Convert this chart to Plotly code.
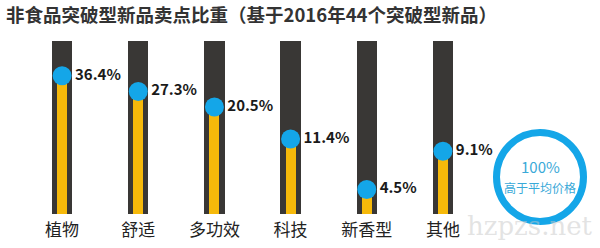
import math
import plotly.graph_objects as go

# ---- data ----
categories = ["植物", "舒适", "多功效", "科技", "新香型", "其他"]
values = [36.4, 27.3, 20.5, 11.4, 4.5, 9.1]
labels = ["36.4%", "27.3%", "20.5%", "11.4%", "4.5%", "9.1%"]
title_text = "非食品突破型新品卖点比重（基于2016年44个突破型新品）"
ring_value = "100%"
ring_caption = "高于平均价格"

# ---- style ----
W, H = 600, 248
L, R, T, B = 24, 119, 41, 34
LOG_LO, LOG_HI = 0.458, 1.839
DARK = "#393735"
YELLOW = "#f6b90a"
BLUE = "#14a6e8"
FONT = "Noto Sans CJK SC"

plot_w = W - L - R
plot_h = H - T - B


def px_to_paper_x(px):
    return (px - L) / plot_w


def px_to_paper_y(py):
    return (H - B - py) / plot_h


fig = go.Figure()

# background tracks (full height of the axis)
fig.add_trace(go.Bar(
    x=categories, y=[10 ** LOG_HI] * len(categories),
    width=0.265, marker=dict(color=DARK, line=dict(width=0)),
    hoverinfo="skip", showlegend=False,
))
# value bars
fig.add_trace(go.Bar(
    x=categories, y=values,
    width=0.13, marker=dict(color=YELLOW, line=dict(width=0)),
    hoverinfo="skip", showlegend=False,
))
# knobs + labels
fig.add_trace(go.Scatter(
    x=categories, y=values, mode="markers+text",
    marker=dict(color=BLUE, size=19, line=dict(width=0)),
    text=["<b>%s</b>" % t for t in labels],
    textposition="middle right",
    textfont=dict(family=FONT, size=15, color="#1a1a1a"),
    hoverinfo="skip", showlegend=False, cliponaxis=False,
))

# ring
cx0, cx1 = 496.5, 583.5
cy0, cy1 = 132.5, 221.5
fig.add_shape(type="circle", xref="paper", yref="paper",
              x0=px_to_paper_x(cx0), x1=px_to_paper_x(cx1),
              y0=px_to_paper_y(cy1), y1=px_to_paper_y(cy0),
              line=dict(color=BLUE, width=7), fillcolor="rgba(0,0,0,0)")
fig.add_annotation(xref="paper", yref="paper", xanchor="center", yanchor="middle",
                   x=px_to_paper_x(540), y=px_to_paper_y(166),
                   text=ring_value, showarrow=False,
                   font=dict(family=FONT, size=15, color="#3aa9d8"))
fig.add_annotation(xref="paper", yref="paper", xanchor="center", yanchor="middle",
                   x=px_to_paper_x(540), y=px_to_paper_y(187),
                   text=ring_caption, showarrow=False,
                   font=dict(family=FONT, size=12, color="#3aa9d8"))

# watermark
fig.add_annotation(xref="paper", yref="paper", xanchor="center", yanchor="middle",
                   x=px_to_paper_x(530), y=px_to_paper_y(226),
                   text="hzpzs.net", showarrow=False,
                   font=dict(family="DejaVu Serif", size=26, color="rgba(200,200,200,0.5)"))

fig.update_layout(
    width=W, height=H,
    margin=dict(l=L, r=R, t=T, b=B, autoexpand=False),
    paper_bgcolor="white", plot_bgcolor="white",
    barmode="overlay", bargap=0,
    title=dict(text="<b>%s</b>" % title_text, xref="container", yref="container",
               x=6 / W, xanchor="left", y=1 - 16 / H, yanchor="middle",
               font=dict(family=FONT, size=18.5, color="#333333")),
    xaxis=dict(type="category", range=[-0.5, 5.5], showgrid=False, zeroline=False,
               showline=False, ticks="", ticklabelstandoff=4, automargin=False,
               tickfont=dict(family=FONT, size=17, color="#222222")),
    yaxis=dict(type="log", range=[LOG_LO, LOG_HI], visible=False, automargin=False),
)

fig.write_html("out.html")
